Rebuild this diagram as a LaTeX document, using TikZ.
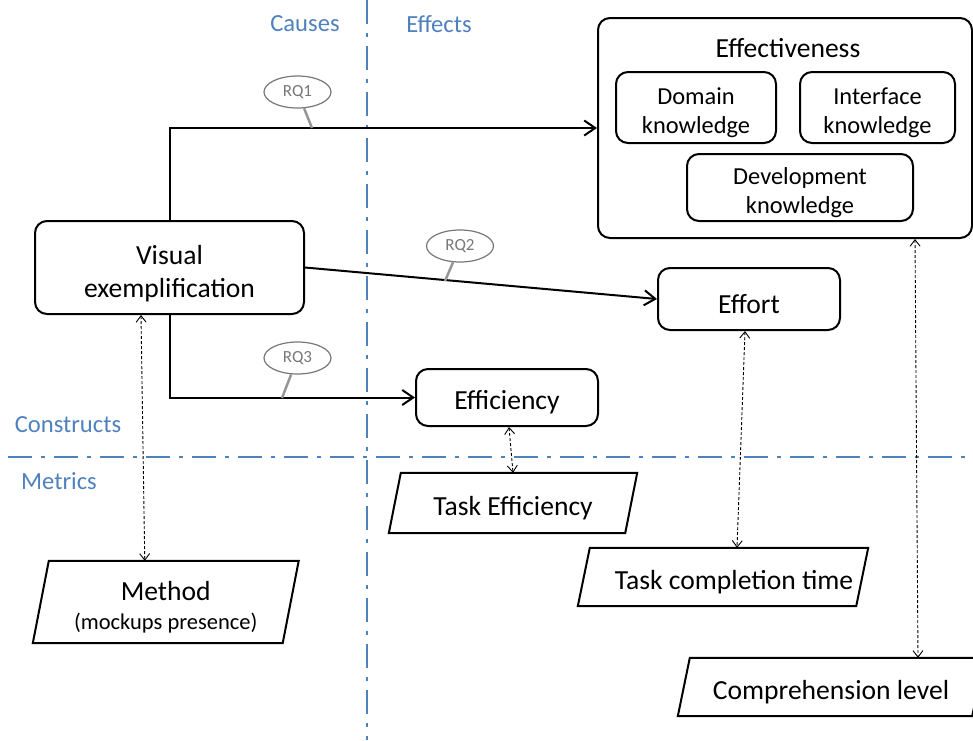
\documentclass[tikz,border=0pt]{standalone}
\usepackage{fontspec}
\setmainfont{Carlito}
\usetikzlibrary{arrows.meta,shapes.geometric}
\definecolor{axisblue}{RGB}{79,129,189}
\definecolor{calloutgray}{RGB}{120,120,120}
\definecolor{tailgray}{RGB}{150,150,150}

\tikzset{
  box/.style={draw, line width=2pt, rounded corners=12pt, inner sep=0pt},
  frame/.style={inner sep=0pt},
  txt/.style={align=center, inner sep=0pt, yshift=-5pt},
  bigtext/.style={font=\fontsize{27.6}{33}\selectfont},
  midtext/.style={font=\fontsize{24.4}{29}\selectfont},
  smalltext/.style={font=\fontsize{22.5}{26}\selectfont},
  axis/.style={axisblue, line width=2pt, dash pattern=on 24pt off 9pt on 4pt off 9pt},
  axislabel/.style={text=axisblue, font=\fontsize{24.6}{28}\selectfont, yshift=-1pt},
  flow/.style={line width=2pt, -{Straight Barb[length=11pt,width=15pt]}},
  measure/.style={line width=0.9pt, dash pattern=on 3pt off 2pt,
    {Straight Barb[length=6.5pt,width=10pt]}-{Straight Barb[length=6.5pt,width=10pt]}},
  callout/.style={ellipse, draw=calloutgray, fill=white, line width=1.2pt, text=calloutgray,
    font=\fontsize{17}{20}\selectfont, minimum width=67pt, minimum height=32pt, inner sep=0pt},
  tail/.style={tailgray, line width=2.5pt},
}

% parallelogram outline around a metric node: #1 node name, #2 half slant
\newcommand\slantframe[2]{%
  \draw[line width=2pt] ([xshift=#2]#1.north west) -- ([xshift=#2]#1.north east)
    -- ([xshift=-#2]#1.south east) -- ([xshift=-#2]#1.south west) -- cycle;}

\begin{document}
\begin{tikzpicture}[x=1pt,y=-1pt]
\useasboundingbox (0,0) rectangle (973,740);

% quadrant separators
\coordinate (vtop) at (367,0);
\coordinate (vbot) at (367,740);
\coordinate (hleft) at (8,457);
\coordinate (hright) at (973,457);
\draw[axis] (vtop) -- (vbot);
\draw[axis] (hleft) -- (hright);
\node[axislabel] (causes) at (305,23) {Causes};
\node[axislabel] (effects) at (439,23) {Effects};
\node[axislabel] (constructs) at (68,424) {Constructs};
\node[axislabel] (metrics) at (59,480) {Metrics};

% constructs
\node[box, minimum width=269pt, minimum height=93pt,
  label={[txt,bigtext,yshift=-1pt]center:{Visual\\exemplification}}] (vis) at (169.5,267.5) {};
\node[box, minimum width=374pt, minimum height=220pt] (effv) at (785,128) {};
\node[bigtext] (effvtitle) at (788,48) {Effectiveness};
\node[box, minimum width=160pt, minimum height=71pt,
  label={[txt,midtext]center:{Domain\\knowledge}}] (dom) at (696,107.5) {};
\node[box, minimum width=155pt, minimum height=71pt,
  label={[txt,midtext]center:{Interface\\knowledge}}] (intf) at (877.5,107.5) {};
\node[box, minimum width=226pt, minimum height=67pt,
  label={[txt,midtext]center:{Development\\knowledge}}] (dev) at (800,187.5) {};
\node[box, minimum width=182pt, minimum height=62pt,
  label={[txt,bigtext]center:Effort}] (effort) at (749,299) {};
\node[box, minimum width=182pt, minimum height=57pt,
  label={[txt,bigtext]center:Efficiency}] (eff) at (507,397.5) {};

% metrics
\node[frame, minimum width=236pt, minimum height=60pt,
  label={[txt,bigtext]center:Task Efficiency}] (te) at (513,503) {};
\slantframe{te}{6}
\node[frame, minimum width=249.5pt, minimum height=82pt,
  label={[txt,bigtext]center:{Method\\[-4pt]{\fontsize{22.5}{26}\selectfont (mockups presence)}}}]
  (meth) at (165.75,602) {};
\slantframe{meth}{8}
\node[frame, minimum width=278pt, minimum height=58pt,
  label={[txt,bigtext,xshift=11pt]center:Task completion time}] (tct) at (723,577) {};
\slantframe{tct}{6}
\node[frame, minimum width=294pt, minimum height=58pt,
  label={[txt,bigtext]center:Comprehension level}] (comp) at (831,687) {};
\slantframe{comp}{6}

% research questions
\draw[flow] (vis.north) |- (effv.west);
\draw[flow] (vis.east) -- (effort.west);
\draw[flow] (vis.south) |- (eff.west);

\coordinate (r1) at (312,128);
\coordinate (r2) at (445,281);
\coordinate (r3) at (282,398);
\node[callout] (rq1) at (297.5,92) {RQ1};
\node[callout] (rq2) at (460,246) {RQ2};
\node[callout] (rq3) at (297.5,358) {RQ3};
\draw[tail] (r1) -- (rq1);
\draw[tail] (r2) -- (rq2);
\draw[tail] (r3) -- (rq3);

% construct-to-metric mappings
\draw[measure] ([xshift=-28.5]vis.south) -- ([xshift=-21]meth.north);
\draw[measure] ([xshift=2]eff.south) -- (te.north);
\draw[measure] ([xshift=-4]effort.south) -- ([xshift=14]tct.north);
\draw[measure] ([xshift=130]effv.south) -- ([xshift=87]comp.north);
\end{tikzpicture}
\end{document}
